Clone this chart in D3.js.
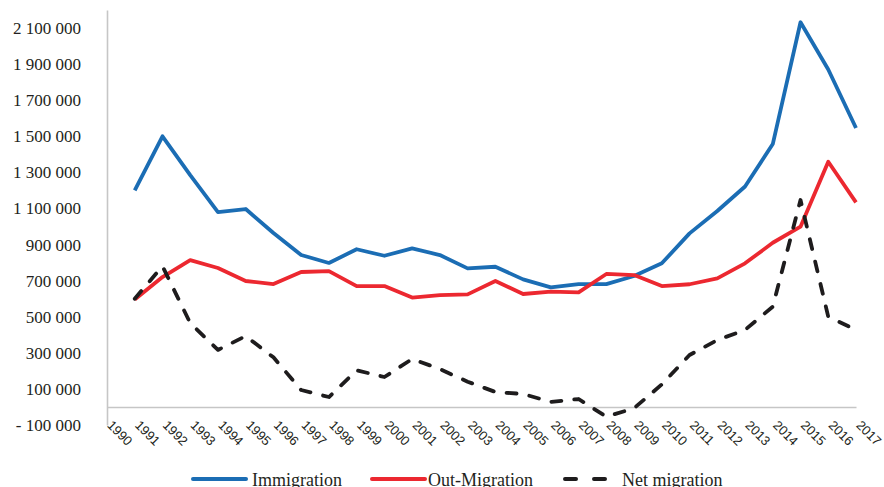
<!DOCTYPE html>
<html>
<head>
<meta charset="utf-8">
<script src="https://cdn.jsdelivr.net/npm/d3@7"></script>
<style>
  body { margin: 0; background: #fff; }
  svg { display: block; }
</style>
</head>
<body>
<div id="chart"></div>
<script>
// ---------------- data ----------------
const years = d3.range(1990, 2018);          // axis categories 1990..2017
const dataYears = d3.range(1991, 2018);      // values start in 1991

const immigration = [
  1200000, 1500000, 1285000, 1080000, 1097000, 964000, 842000, 798000, 874000,
  838000, 879000, 842000, 768000, 777000, 707000, 663000, 681000, 681000,
  726000, 796000, 962000, 1086000, 1222000, 1457000, 2132000, 1870000, 1546000
];
const outMigration = [
  596000, 720000, 814000, 770000, 698000, 681000, 748000, 753000, 670000,
  670000, 606000, 620000, 624000, 698000, 626000, 639000, 635000, 737000,
  731000, 670000, 680000, 713000, 796000, 910000, 999000, 1359000, 1134000
];
const netMigration = [
  600000, 780000, 465000, 316000, 393000, 275000, 94000, 55000, 203000,
  166000, 266000, 210000, 140000, 83000, 72000, 28000, 44000, -54000,
  -7000, 125000, 288000, 371000, 427000, 556000, 1147000, 500000, 427000
];
const yTicks = d3.range(-100000, 2100001, 200000);

const series = [
  {name: 'Immigration', values: immigration, color: '#1b6db4', dash: null},
  {name: 'Out-Migration', values: outMigration, color: '#ec2830', dash: null},
  {name: 'Net migration', values: netMigration, color: '#1e1c1d', dash: '10,13'}
];

// ---------------- layout ----------------
const totalWidth = 884, totalHeight = 487;
const plot = {left: 107, right: 856, top: 10, bottom: 425};
const axisColor = '#c6c6c6';

const svg = d3.select('#chart').append('svg')
  .attr('width', totalWidth)
  .attr('height', totalHeight);

// ---------------- scales ----------------
const xScale = d3.scalePoint().domain(years).range([plot.left, plot.right]).padding(0);
const yScale = d3.scaleLinear().domain([-100000, 2200000]).range([plot.bottom, plot.top]);

const fmtNum = d3.format(',');
function fmt(v){
  const s = fmtNum(Math.abs(v)).replace(/,/g, ' ');
  return v < 0 ? '- ' + s : s;
}

// ---------------- y axis ----------------
const yAxis = d3.axisLeft(yScale).tickValues(yTicks).tickSize(0).tickPadding(26).tickFormat(fmt);
const yAxisView = svg.append('g')
  .attr('transform', 'translate(' + plot.left + ',0)')
  .call(yAxis);
yAxisView.select('.domain').attr('stroke', axisColor).attr('stroke-width', 1.6);
yAxisView.selectAll('text')
  .attr('fill', '#231f20')
  .style('font-family', '"Liberation Serif", "Times New Roman", serif')
  .style('font-size', '17px');

// ---------------- x axis ----------------
const xAxis = d3.axisBottom(xScale).tickSize(0).tickSizeOuter(0);
const xAxisView = svg.append('g')
  .attr('transform', 'translate(0,' + yScale(0) + ')')
  .call(xAxis);
xAxisView.select('.domain').attr('stroke', axisColor).attr('stroke-width', 1.6);
xAxisView.selectAll('text')
  .attr('fill', '#231f20')
  .attr('y', 0)
  .attr('dy', 0)
  .attr('text-anchor', 'start')
  .attr('transform', 'translate(-1,' + (plot.bottom - yScale(0) + 1) + ') rotate(45)')
  .style('font-family', '"Liberation Sans", Arial, sans-serif')
  .style('font-size', '13px');

// ---------------- lines ----------------
const line = d3.line()
  .x((d, i) => xScale(dataYears[i]))
  .y(d => yScale(d));

svg.append('g').selectAll('path')
  .data(series)
  .enter()
  .append('path')
  .attr('d', d => line(d.values))
  .attr('fill', 'none')
  .attr('stroke', d => d.color)
  .attr('stroke-width', 3.8)
  .attr('stroke-linejoin', 'round')
  .attr('stroke-linecap', d => d.dash ? 'round' : 'butt')
  .attr('stroke-dasharray', d => d.dash);

// ---------------- legend ----------------
const legendX = [193, 372, 563];
const legendY = 479;
const legend = svg.append('g').selectAll('g')
  .data(series)
  .enter()
  .append('g')
  .attr('transform', (d, i) => 'translate(' + legendX[i] + ',' + legendY + ')');

legend.append('line')
  .attr('x1', d => d.dash ? 2 : 0).attr('x2', d => d.dash ? 42 : 53)
  .attr('y1', 0).attr('y2', 0)
  .attr('stroke', d => d.color)
  .attr('stroke-width', 4)
  .attr('stroke-linecap', 'round')
  .attr('stroke-dasharray', d => d.dash ? '11,18' : null);

legend.append('text')
  .attr('x', d => d.dash ? 59 : d.name === 'Immigration' ? 59 : 56)
  .attr('y', 7)
  .attr('fill', '#231f20')
  .style('font-family', '"Liberation Serif", "Times New Roman", serif')
  .style('font-size', '18px')
  .text(d => d.name);
</script>
</body>
</html>
